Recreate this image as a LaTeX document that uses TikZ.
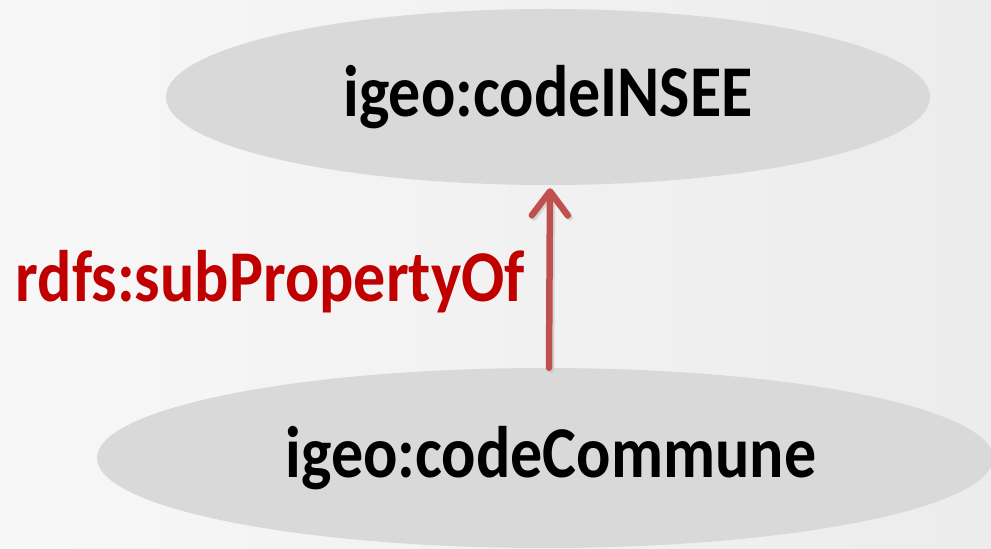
\documentclass[tikz,border=0pt]{standalone}
\usepackage{fontspec}
\setmainfont{Carlito}
\usetikzlibrary{shapes.geometric, arrows.meta}

\definecolor{ovalgray}{HTML}{D9D9D9}
\definecolor{arrowred}{HTML}{C0504D}
\definecolor{labelred}{HTML}{C00000}

% taller bold text, as in the slide
\newcommand{\tallbf}[1]{\scalebox{1}[1.14]{#1}}

\tikzset{
  prop/.style={ellipse, fill=ovalgray, inner sep=0pt, font=\fontsize{64}{66}\selectfont\bfseries},
  subprop/.style={-{Straight Barb[length=24pt, width=36pt, round]}, line width=6.5pt, arrowred, line cap=round},
}

\begin{document}
\begin{tikzpicture}[x=1pt, y=1pt]
    % Canvas
    \useasboundingbox (0,0) rectangle (991,549);
    \shade[left color=gray!6, right color=gray!15] (0,0) rectangle (991,549);
    % Properties
    \node[prop, minimum width=764pt, minimum height=176pt] (insee) at (548,452) {\tallbf{igeo:codeINSEE}};
    \node[prop, minimum width=896pt, minimum height=180pt] (commune) at (545,91) {\hspace*{12pt}\tallbf{igeo:codeCommune}};
    % Link
    \draw[subprop, black!25, opacity=0.5] ([shift={(6,-2)}]commune.north) -- ([shift={(4,-5)}]insee.south);
    \draw[subprop] ([xshift=4pt]commune.north) -- ([shift={(2,-3)}]insee.south)
        node[midway, left=18pt, yshift=-4pt, labelred, font=\fontsize{64}{66}\selectfont\bfseries] (sub) {\tallbf{rdfs:subPropertyOf}};
\end{tikzpicture}
\end{document}
